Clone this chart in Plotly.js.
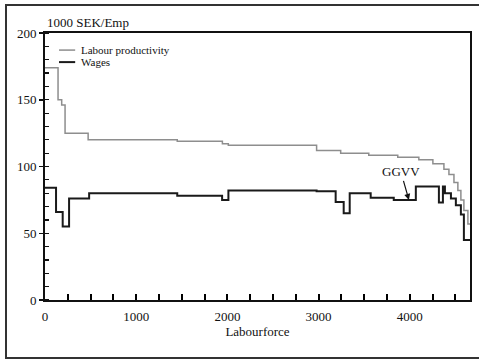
<!DOCTYPE html>
<html>
<head>
<meta charset="utf-8">
<script src="https://cdn.plot.ly/plotly-3.0.1.min.js"></script>
<style>
html,body{margin:0;padding:0;background:#fff;}
#wrap{position:relative;width:479px;height:359px;}
#chart{width:479px;height:359px;}
#frame{position:absolute;left:5px;top:4px;width:472px;height:351px;border:2px solid #333;pointer-events:none;}
</style>
</head>
<body>
<div id="wrap"><div id="chart"></div><div id="frame"></div></div>
<script>
// Labour productivity: step start positions (labourforce) and values (1000 SEK/Emp)
const prodX = [0, 143, 183, 220, 473, 1450, 1945, 2010, 2978, 3242, 3550, 3868, 4099, 4253, 4374, 4429, 4484, 4527, 4560, 4593, 4637, 4660];
const prodY = [174, 150, 146, 125, 120, 119, 117, 116, 112, 110, 108.5, 107, 105, 102, 98, 94, 88, 82, 75, 67, 57, 57];

// Wages: step start positions and values
const wageX = [0, 121, 194, 264, 484, 1450, 1942, 2011, 2978, 3187, 3275, 3341, 3571, 3824, 4066, 4319, 4363, 4385, 4451, 4505, 4560, 4593, 4660];
const wageY = [84, 66, 55, 76, 80, 78, 75, 82, 81.5, 73.5, 65, 80, 76.5, 75, 85, 73, 85, 80, 76, 71, 64, 45, 45];

const seriesNames = ["Labour productivity", "Wages"];
const seriesColors = ["#8e8e8e", "#1a1a1a"];
const seriesWidths = [1.5, 2];
const yTitle = "1000 SEK/Emp";
const xTitle = "Labourforce";
const markerLabel = "GGVV";
const markerX = 3990;
const markerY = 75;

const serif = "Liberation Serif, Times New Roman, serif";

const traces = [
  {x: prodX, y: prodY, name: seriesNames[0], type: "scatter", mode: "lines",
   line: {shape: "hv", color: seriesColors[0], width: seriesWidths[0]}},
  {x: wageX, y: wageY, name: seriesNames[1], type: "scatter", mode: "lines",
   line: {shape: "hv", color: seriesColors[1], width: seriesWidths[1]}}
];

const legX0 = 0.033, legX1 = 0.071, legTextX = 0.08;
const legY = [0.936, 0.891];
const legendShapes = seriesNames.map((n, i) => ({
  type: "line", xref: "paper", yref: "paper", x0: legX0, x1: legX1, y0: legY[i], y1: legY[i],
  line: {color: seriesColors[i], width: seriesWidths[i]}
}));
const legendTexts = seriesNames.map((n, i) => ({
  xref: "paper", yref: "paper", x: legTextX, y: legY[i], xanchor: "left", yanchor: "middle",
  text: n, showarrow: false, font: {family: serif, size: 11, color: "#111"}
}));

const layout = {
  width: 479, height: 359,
  margin: {l: 45, r: 9, t: 33, b: 59},
  paper_bgcolor: "rgba(0,0,0,0)", plot_bgcolor: "#fff",
  font: {family: serif, color: "#111", size: 13},
  showlegend: false,
  xaxis: {range: [0, 4660], tickmode: "linear", tick0: 0, dtick: 1000, ticks: "inside", ticklen: 6,
          tickwidth: 2, tickcolor: "#000", showgrid: false, zeroline: false,
          showline: true, linewidth: 2, linecolor: "#111", mirror: true, ticklabelstandoff: 3,
          minor: {dtick: 250, tick0: 0, ticks: "inside", ticklen: 6, tickwidth: 2, tickcolor: "#000", showgrid: false},
          tickfont: {family: serif, size: 13},
          title: {text: xTitle, font: {family: serif, size: 13}, standoff: 2}},
  yaxis: {range: [0, 200], tickmode: "linear", tick0: 0, dtick: 50, ticks: "outside", ticklen: 4,
          tickwidth: 1.5, tickcolor: "#111", showgrid: false, zeroline: false,
          showline: true, linewidth: 2, linecolor: "#111", mirror: true,
          minor: {dtick: 10, tick0: 0, ticks: "inside", ticklen: 4, tickwidth: 1.2, tickcolor: "#111", showgrid: false},
          tickfont: {family: serif, size: 13}},
  shapes: legendShapes,
  annotations: [
    {xref: "paper", yref: "paper", x: 0, y: 1, xanchor: "left", yanchor: "bottom", yshift: 1,
     text: yTitle, showarrow: false, font: {family: serif, size: 13}},
    {x: markerX, y: markerY, xref: "x", yref: "y", text: markerLabel, showarrow: true,
     arrowhead: 2, arrowsize: 1, arrowwidth: 1.2, arrowcolor: "#111", ax: -8, ay: -28,
     font: {family: serif, size: 13}}
  ].concat(legendTexts)
};

Plotly.newPlot("chart", traces, layout, {staticPlot: true, displayModeBar: false});
</script>
</body>
</html>
